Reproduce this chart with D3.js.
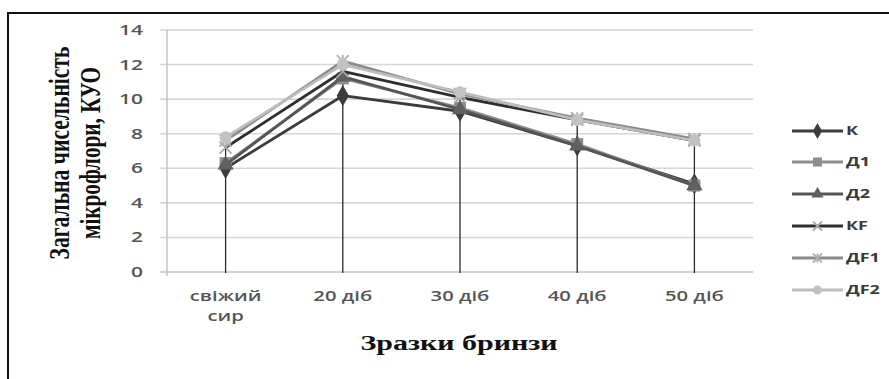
<!DOCTYPE html>
<html>
<head>
<meta charset="utf-8">
<script src="https://cdn.jsdelivr.net/npm/d3@7"></script>
<style>
  html, body { margin: 0; padding: 0; background: #fff; }
  svg { display: block; }
</style>
</head>
<body>
<svg id="chart" width="889" height="379"></svg>
<script>
// Samples of brynza cheese over ripening time
const categories = ["свіжий сир", "20 діб", "30 діб", "40 діб", "50 діб"];
const yTicks = [0, 2, 4, 6, 8, 10, 12, 14];

// Total microflora count per sample group
const seriesNames = ["К", "Д1", "Д2", "КF", "ДF1", "ДF2"];
const valuesK   = [6.0, 10.2, 9.3, 7.3, 5.1];
const valuesD1  = [6.3, 11.2, 9.5, 7.4, 5.0];
const valuesD2  = [6.2, 11.3, 9.4, 7.3, 5.0];
const valuesKF  = [7.2, 11.6, 10.1, 8.8, 7.6];
const valuesDF1 = [7.6, 12.2, 10.3, 8.9, 7.7];
const valuesDF2 = [7.8, 12.0, 10.4, 8.8, 7.6];

const series = [
  { name: seriesNames[0], values: valuesK,   line: "#3c3c3c", mark: "#3c3c3c", shape: "diamond" },
  { name: seriesNames[1], values: valuesD1,  line: "#8e8e8e", mark: "#8e8e8e", shape: "square" },
  { name: seriesNames[2], values: valuesD2,  line: "#555555", mark: "#606060", shape: "triangle" },
  { name: seriesNames[3], values: valuesKF,  line: "#2e2e2e", mark: "#a8a8a8", shape: "cross" },
  { name: seriesNames[4], values: valuesDF1, line: "#8a8a8a", mark: "#b0b0b0", shape: "star" },
  { name: seriesNames[5], values: valuesDF2, line: "#bdbdbd", mark: "#c2c2c2", shape: "circle" }
];

const SX = 1.5; // horizontal stretch of the lettering
const svg = d3.select("#chart");

// Outer frame
svg.append("path")
  .attr("d", "M8,400 L8,13 L900,13")
  .attr("fill", "none").attr("stroke", "#111").attr("stroke-width", 2);

const plot = { left: 167, right: 753, top: 30, bottom: 272 };

const x = d3.scaleBand().domain(categories).range([plot.left, plot.right]);
const y = d3.scaleLinear().domain([0, 14]).range([plot.bottom, plot.top]);
const cx = c => x(c) + x.bandwidth() / 2;

// Gridlines
svg.append("g").selectAll("line").data(yTicks).join("line")
  .attr("x1", 160).attr("x2", plot.right)
  .attr("y1", d => y(d)).attr("y2", d => y(d))
  .attr("stroke", d => d === 0 ? "#c4c4c4" : "#d6d6d6")
  .attr("stroke-width", 1.6);

// Vertical axis line
svg.append("line")
  .attr("x1", plot.left).attr("x2", plot.left)
  .attr("y1", y(14)).attr("y2", y(0) + 4)
  .attr("stroke", "#c4c4c4").attr("stroke-width", 1.5);

// Y tick labels
const yl = svg.append("g");
yTicks.forEach(t => {
  yl.append("text")
    .attr("transform", `translate(143,${y(t)}) scale(${SX},1)`)
    .attr("text-anchor", "end").attr("dy", "0.36em")
    .attr("font-family", "'Open Sans', sans-serif").attr("font-size", 14)
    .attr("font-weight", 600)
    .attr("fill", "#555")
    .text(t);
});

// X tick labels (with wrapping for two-word category)
categories.forEach(c => {
  const parts = c === "свіжий сир" ? ["свіжий", "сир"] : [c];
  parts.forEach((p, i) => {
    svg.append("text")
      .attr("transform", `translate(${cx(c)},${301 + i * 20}) scale(${SX},1)`)
      .attr("text-anchor", "middle")
      .attr("font-family", "'Open Sans', sans-serif").attr("font-size", 13.5)
      .attr("font-weight", 600)
      .attr("fill", "#555")
      .text(p);
  });
});

// Drop lines from the highest point to the category axis
const dropTop = categories.map((c, i) => d3.max(series, s => s.values[i]));
svg.append("g").selectAll("line").data(categories).join("line")
  .attr("x1", c => cx(c)).attr("x2", c => cx(c))
  .attr("y1", (c, i) => y(dropTop[i])).attr("y2", y(0) + 1)
  .attr("stroke", "#2a2a2a").attr("stroke-width", 1.3);

// Marker symbols
function marker(g, shape, color, px, py, size) {
  const s = size;
  if (shape === "diamond") {
    g.append("path").attr("d", d3.symbol(d3.symbolDiamond, s * s * 0.9)())
      .attr("transform", `translate(${px},${py})`).attr("fill", color);
  } else if (shape === "square") {
    g.append("rect").attr("x", px - s / 2).attr("y", py - s / 2)
      .attr("width", s).attr("height", s).attr("fill", color);
  } else if (shape === "triangle") {
    g.append("path").attr("d", d3.symbol(d3.symbolTriangle, s * s * 0.8)())
      .attr("transform", `translate(${px},${py})`).attr("fill", color);
  } else if (shape === "cross") {
    g.append("path").attr("d", `M${px - s / 2},${py - s / 2}L${px + s / 2},${py + s / 2}M${px - s / 2},${py + s / 2}L${px + s / 2},${py - s / 2}`)
      .attr("stroke", color).attr("stroke-width", 1.8);
  } else if (shape === "star") {
    g.append("path").attr("d", `M${px - s / 2},${py - s / 2}L${px + s / 2},${py + s / 2}M${px - s / 2},${py + s / 2}L${px + s / 2},${py - s / 2}M${px},${py - s / 2}L${px},${py + s / 2}`)
      .attr("stroke", color).attr("stroke-width", 1.8);
  } else if (shape === "circle") {
    g.append("circle").attr("cx", px).attr("cy", py).attr("r", s / 2).attr("fill", color);
  }
}

// Series lines with markers
const line = d3.line().x((d, i) => cx(categories[i])).y(d => y(d));
const lines = svg.append("g");
series.forEach(s => {
  const g = lines.append("g");
  g.append("path").datum(s.values)
    .attr("d", line).attr("fill", "none")
    .attr("stroke", s.line).attr("stroke-width", 2.8)
    .attr("stroke-linejoin", "round");
  s.values.forEach((v, i) => marker(g, s.shape, s.mark, cx(categories[i]), y(v), 12));
});

// Legend
const legend = svg.append("g");
const legY = [131, 162, 194, 226, 258, 290];
series.forEach((s, i) => {
  const ly = legY[i];
  legend.append("line").attr("x1", 792).attr("x2", 843).attr("y1", ly).attr("y2", ly)
    .attr("stroke", s.line).attr("stroke-width", 2.8);
  marker(legend, s.shape, s.mark, 817.5, ly, 9);
  legend.append("text")
    .attr("transform", `translate(846,${ly}) scale(${SX},1)`)
    .attr("dy", "0.36em")
    .attr("font-family", "'Open Sans', sans-serif").attr("font-size", 12)
    .attr("font-weight", 700).attr("fill", "#3a3a3a")
    .text(s.name);
});

// Axis titles
svg.append("text")
  .attr("transform", `translate(${(plot.left + plot.right) / 2 - 1},350) scale(${SX},1)`)
  .attr("text-anchor", "middle")
  .attr("font-family", "'Liberation Serif', 'Times New Roman', serif")
  .attr("font-size", 20).attr("font-weight", "bold").attr("fill", "#111")
  .text("Зразки бринзи");

const yTitle = ["Загальна чисельність", "мікрофлори, КУО"];
const yTitleX = [69, 100];
const yTitleLen = [213, 172];
yTitle.forEach((t, i) => {
  svg.append("text")
    .attr("transform", `translate(${yTitleX[i]},153) rotate(-90) scale(1,${SX})`)
    .attr("text-anchor", "middle")
    .attr("font-family", "'Liberation Serif', 'Times New Roman', serif")
    .attr("font-size", 19).attr("font-weight", "bold").attr("fill", "#111")
    .attr("textLength", yTitleLen[i]).attr("lengthAdjust", "spacingAndGlyphs")
    .text(t);
});
</script>
</body>
</html>
